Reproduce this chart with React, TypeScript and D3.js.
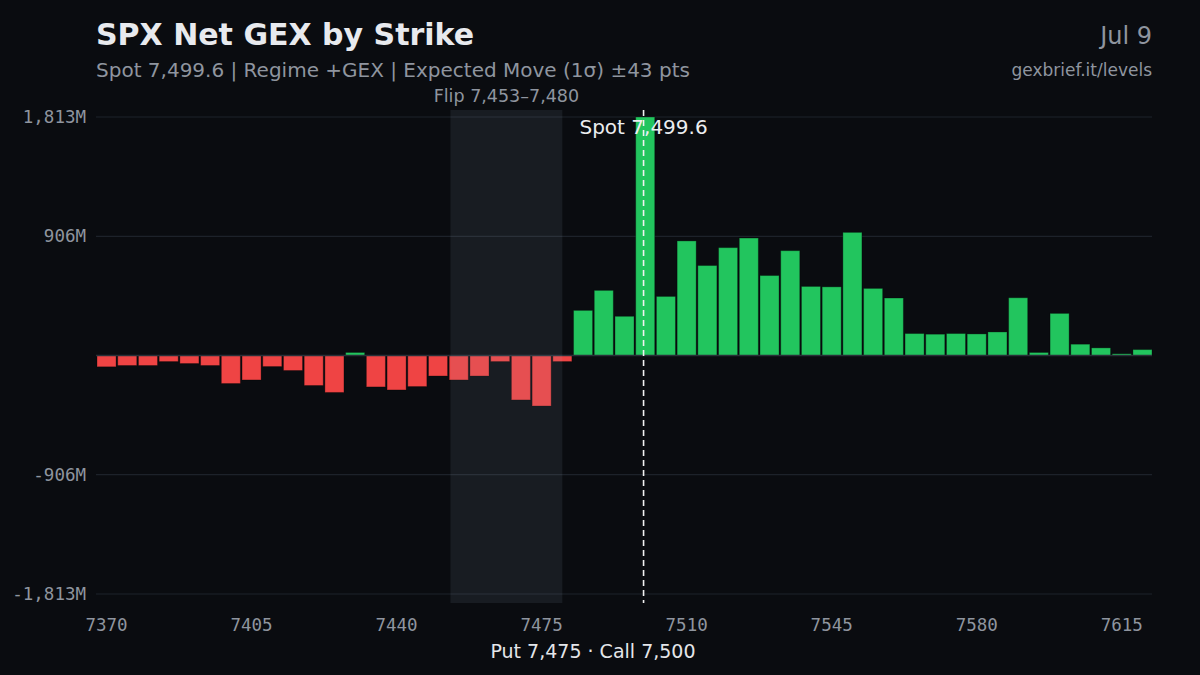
import React, { useEffect, useRef } from 'react'
import * as d3 from 'd3'

// strikes 7370..7620 step 5
const strikes: number[] = d3.range(7370, 7625, 5)

// net GEX per strike, millions
const gexValues: number[] = [
    -86, -76, -76, -46, -61, -76, -213, -186, -84, -114, -228, -281, 23, -239, -262, -236, -156,
    -186, -156, -46, -338, -384, -46,
    343, 495, 298, 1813, 449, 871, 684, 820, 893, 608, 797, 525, 522, 936, 510, 437, 167, 162,
    167, 164, 179, 439, 23, 320, 86, 58, 13, 45,
]

const yTicks: number[] = [1813, 906, -906, -1813]
const xTickLabels: number[] = [7370, 7405, 7440, 7475, 7510, 7545, 7580, 7615]

const spot = 7499.6
const flipRange: [number, number] = [7453, 7480]

const W = 1200
const H = 675
const margin = { top: 110, right: 48, bottom: 72, left: 97 }

const BG = '#0a0c10'
const GREEN = '#22c55e'
const RED = '#ef4444'
const MUTED = '#8f959f'
const MONO = '"DejaVu Sans Mono", monospace'
const SANS = '"DejaVu Sans", sans-serif'

const fmtM = (d: number) => (d < 0 ? '-' : '') + d3.format(',')(Math.abs(d)) + 'M'

const App = () => {
    const ref = useRef<SVGSVGElement>(null)

    useEffect(() => {
        document.body.style.margin = '0'
        document.body.style.background = BG

        const svg = d3.select(ref.current)
        svg.selectAll('*').remove()

        svg.append('rect').attr('width', W).attr('height', H).attr('fill', BG)

        const x = d3
            .scaleBand<number>()
            .domain(strikes)
            .range([margin.left, W - margin.right])
            .paddingInner(0.08)
            .paddingOuter(0)
        // continuous position for strike values (band centres)
        const xs = d3
            .scaleLinear()
            .domain([strikes[0], strikes[strikes.length - 1]])
            .range([x(strikes[0])! + x.bandwidth() / 2, x(strikes[strikes.length - 1])! + x.bandwidth() / 2])

        const y = d3.scaleLinear().domain([-1813, 1813]).range([594, 117])
        const plotBottom = 603

        // Grid
        svg.append('g')
            .selectAll('line')
            .data(yTicks)
            .join('line')
            .attr('x1', margin.left - 1)
            .attr('x2', W - margin.right)
            .attr('y1', d => y(d))
            .attr('y2', d => y(d))
            .attr('stroke', '#1d222a')
            .attr('stroke-width', 1.2)

        svg.append('g')
            .selectAll('text')
            .data(yTicks)
            .join('text')
            .attr('x', 86)
            .attr('y', d => y(d))
            .attr('dy', '0.35em')
            .attr('text-anchor', 'end')
            .attr('fill', MUTED)
            .attr('font-family', MONO)
            .attr('font-size', 17.5)
            .text(d => fmtM(d))

        // Bars
        svg.append('g')
            .selectAll('rect')
            .data(strikes)
            .join('rect')
            .attr('x', d => x(d)!)
            .attr('width', x.bandwidth())
            .attr('y', (d, i) => y(Math.max(0, gexValues[i])))
            .attr('height', (d, i) => Math.abs(y(gexValues[i]) - y(0)))
            .attr('fill', (d, i) => (gexValues[i] >= 0 ? GREEN : RED))
            .attr('stroke', 'rgba(0,0,0,0.3)')
            .attr('stroke-width', 1)

        // zero line
        svg.append('line')
            .attr('x1', margin.left - 1)
            .attr('x2', W - margin.right)
            .attr('y1', y(0))
            .attr('y2', y(0))
            .attr('stroke', '#2a3038')
            .attr('stroke-width', 1.5)

        // Flip band
        const fx0 = xs(flipRange[0])
        const fx1 = xs(flipRange[1])
        svg.append('rect')
            .attr('x', fx0)
            .attr('width', fx1 - fx0)
            .attr('y', margin.top)
            .attr('height', plotBottom - margin.top)
            .attr('fill', 'rgba(160,175,200,0.1)')

        svg.append('text')
            .attr('x', (fx0 + fx1) / 2)
            .attr('y', 102)
            .attr('text-anchor', 'middle')
            .attr('fill', MUTED)
            .attr('font-family', SANS)
            .attr('font-size', 17.5)
            .text('Flip 7,453–7,480')

        // Spot line
        const sx = xs(spot)
        svg.append('line')
            .attr('x1', sx)
            .attr('x2', sx)
            .attr('y1', margin.top)
            .attr('y2', plotBottom)
            .attr('stroke', '#f2f2f2')
            .attr('stroke-width', 1.6)
            .attr('stroke-dasharray', '6,4')

        svg.append('text')
            .attr('x', sx)
            .attr('y', 134)
            .attr('text-anchor', 'middle')
            .attr('fill', '#eceef1')
            .attr('font-family', SANS)
            .attr('font-size', 20)
            .text('Spot 7,499.6')

        // X axis labels
        svg.append('g')
            .selectAll('text')
            .data(xTickLabels)
            .join('text')
            .attr('x', d => x(d)! + x.bandwidth() / 2)
            .attr('y', 631)
            .attr('text-anchor', 'middle')
            .attr('fill', MUTED)
            .attr('font-family', MONO)
            .attr('font-size', 17.5)
            .text(d => String(d))

        svg.append('text')
            .attr('x', 593)
            .attr('y', 658)
            .attr('text-anchor', 'middle')
            .attr('fill', '#e4e6ea')
            .attr('font-family', SANS)
            .attr('font-size', 19)
            .text('Put 7,475 · Call 7,500')

        // Titles
        svg.append('text')
            .attr('x', 96)
            .attr('y', 45)
            .attr('fill', '#e8eaee')
            .attr('font-family', SANS)
            .attr('font-weight', 'bold')
            .attr('font-size', 30)
            .text('SPX Net GEX by Strike')

        svg.append('text')
            .attr('x', 96)
            .attr('y', 77)
            .attr('fill', MUTED)
            .attr('font-family', SANS)
            .attr('font-size', 20)
            .text('Spot 7,499.6 | Regime +GEX | Expected Move (1σ) ±43 pts')

        svg.append('text')
            .attr('x', 1152)
            .attr('y', 44)
            .attr('text-anchor', 'end')
            .attr('fill', MUTED)
            .attr('font-family', SANS)
            .attr('font-size', 24)
            .text('Jul 9')

        svg.append('text')
            .attr('x', 1152)
            .attr('y', 76)
            .attr('text-anchor', 'end')
            .attr('fill', MUTED)
            .attr('font-family', SANS)
            .attr('font-size', 17)
            .text('gexbrief.it/levels')
    }, [])

    return (
        <div style={{ width: W, height: H, overflow: 'hidden', background: BG }}>
            <svg ref={ref} width={W} height={H} style={{ display: 'block' }} />
        </div>
    )
}

export default App
